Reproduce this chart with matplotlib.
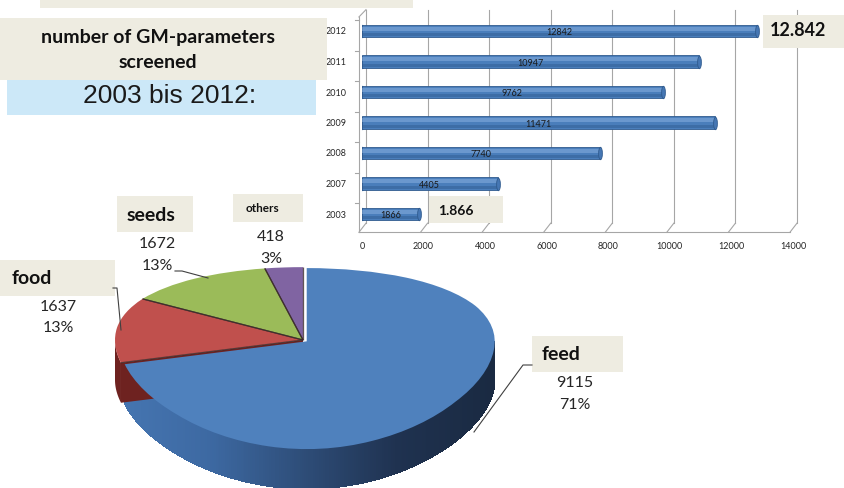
import numpy as np
import matplotlib.pyplot as plt
from matplotlib.patches import Rectangle, Polygon
from matplotlib.collections import PolyCollection
from matplotlib.lines import Line2D
from matplotlib.path import Path
from matplotlib.colors import LinearSegmentedColormap

W, H = 845, 488

# bar chart data
years = ['2003', '2007', '2008', '2009', '2010', '2011', '2012']
screened = [1866, 4405, 7740, 11471, 9762, 10947, 12842]
x_ticks = [0, 2000, 4000, 6000, 8000, 10000, 12000, 14000]

# pie data
pie_labels = ['feed', 'food', 'seeds', 'others']
pie_values = [9115, 1637, 1672, 418]
pie_pct = ['71%', '13%', '13%', '3%']

top_colors = ['#4F81BD', '#C0504D', '#9BBB59', '#8064A2']
side_colors = ['#2C4D75', '#6E2220', '#5F7530', '#4D3B62']
beige = '#EEECE1'
plt.rcParams['font.family'] = ['Lato', 'DejaVu Sans']


def box(x0, y0, x1, y1):
    # pixel box (from top-left) -> figure fraction rect
    return [x0 / W, 1 - y1 / H, (x1 - x0) / W, (y1 - y0) / H]


def fx(x):
    return x / W


def fy(y):
    return 1 - y / H


fig = plt.figure(figsize=(W / 100, H / 100), dpi=100)

# ---------------- 3D-ish pie ----------------
# a y-only perspective: the back half of the disc is squeezed
k = 0.19


def persp(y):
    return y / (1 + k * y)


def persp_inv(s):
    return s / (1 - k * s)


ax_pie = fig.add_axes([0, 0, 1, 1])
cx, cy, rx, ry = 303, 340, 188, 86.7   # pixel position of the pie centre, radii
depth_px = 40

wedges, _ = ax_pie.pie(pie_values, colors=top_colors, startangle=90, counterclock=False,
                       explode=[0.025, 0, 0, 0],
                       wedgeprops=dict(edgecolor='none', linewidth=0))
for w in wedges:
    w.set_zorder(3)

ax_pie.set_yscale('function', functions=(persp, persp_inv))
ax_pie.set_xlim(-cx / rx, (W - cx) / rx)
ax_pie.set_ylim(persp_inv(-(H - cy) / ry), persp_inv(cy / ry))
ax_pie.set_aspect('auto')
ax_pie.axis('off')

to_disp = ax_pie.transData.transform
from_disp = ax_pie.transData.inverted().transform
down = np.array([0, depth_px * fig.dpi / 100])

side_cmap = LinearSegmentedColormap.from_list(
    'side', ['#4676B2', '#3D69A2', '#2E4D78', '#1F3250', '#1A2A42'])

for i, w in enumerate(wedges):
    c0x, c0y = w.center
    t = np.radians(np.linspace(w.theta1, w.theta2, 400))
    t = t[np.sin(t) <= 0]
    if len(t) < 2:
        continue
    top = np.column_stack([c0x + np.cos(t), c0y + np.sin(t)])
    bot = from_disp(to_disp(top) - down)
    outline = np.vstack([top, bot[::-1]])
    if i == 0:
        # feed side with a left-to-right shading
        ax_pie.add_patch(Polygon(outline, closed=True, facecolor='#2E4D78',
                                 edgecolor='none', zorder=1))
        quads = [[top[j], top[j + 1], bot[j + 1], bot[j]] for j in range(len(t) - 1)]
        cols = [side_cmap((top[j, 0] + 1) / 2) for j in range(len(t) - 1)]
        pc = PolyCollection(quads, facecolors=cols, edgecolors='none',
                            linewidths=0, antialiaseds=False, zorder=1.5)
        ax_pie.add_collection(pc, autolim=False)
    else:
        a = np.radians(w.theta2)
        rim = np.array([[c0x + np.cos(a), c0y + np.sin(a)], [c0x, c0y]])
        rim_b = from_disp(to_disp(rim) - down)
        face = [rim[1], rim[0], rim_b[0], rim_b[1]]
        ax_pie.add_patch(Polygon(face, closed=True, facecolor=side_colors[i],
                                 edgecolor='none', zorder=2))
        ax_pie.add_patch(Polygon(outline, closed=True,
                                 facecolor=side_colors[i], edgecolor='none', zorder=2))

# dark seams between the slices on the top face
for i, w in enumerate(wedges[1:], start=1):
    c0x, c0y = w.center
    for ang in (w.theta1, w.theta2):
        a = np.radians(ang)
        ax_pie.plot([c0x, c0x + np.cos(a)], [c0y, c0y + np.sin(a)], color='#3a2a2a',
                    lw=0.9, alpha=0.8, zorder=4, solid_capstyle='butt')

# ---------------- bar chart ----------------
ax = fig.add_axes(box(362, 9.65, 793, 232.3))
ax.set_facecolor('none')
ax.set_xlim(0, 14000)
ax.set_ylim(-0.6, 6.7)
for s in ax.spines.values():
    s.set_visible(False)

grid_c = '#A6A6A6'
for t in x_ticks:
    ax.plot([t + 130, t + 130], [-0.3, 6.7], color=grid_c, lw=0.8, clip_on=False, zorder=0)
    ax.plot([t - 100, t + 130], [-0.6, -0.3], color=grid_c, lw=0.8, clip_on=False, zorder=0)
ax.plot([-100, 14000 - 100], [-0.6, -0.6], color=grid_c, lw=0.8, clip_on=False, zorder=0)
ax.plot([-100, -100], [-0.6, 6.46], color=grid_c, lw=0.8, clip_on=False, zorder=0)
ax.plot([-100, 130], [6.46, 6.7], color=grid_c, lw=0.8, clip_on=False, zorder=0)
for kk in range(7):
    ax.plot([-230, -100], [kk + 0.5 - 0.15, kk + 0.5 - 0.15], color=grid_c, lw=0.8,
            clip_on=False, zorder=0)

ypos = np.arange(len(years))
ax.barh(ypos, screened, height=0.42, color='#4A7EBB', edgecolor='#2F5A8E', lw=0.6, zorder=2)
ax.barh(ypos + 0.08, screened, height=0.13, color='#8DB3E2', alpha=0.5, lw=0, zorder=3)
ax.barh(ypos - 0.13, screened, height=0.1, color='#2F5A8E', alpha=0.45, lw=0, zorder=3)

# rounded end caps of the cylinders
circ = Path.unit_circle()
ell = Path(circ.vertices * [0.3, 1.0], circ.codes)
ax.scatter(screened, ypos, marker=ell, s=80, facecolor='#4677B4', edgecolor='#2F5A8E',
           linewidths=0.6, zorder=3.5)
ax.scatter([0] * len(ypos), ypos, marker=ell, s=80, facecolor='#4A7EBB',
           edgecolor='#2F5A8E', linewidths=0.6, zorder=1.5)

for y, v in zip(ypos, screened):
    ax.text(v / 2, y - 0.06, str(v), ha='center', va='center', fontsize=6.5,
            color='#1a1a1a', zorder=4)

ax.set_yticks(ypos, years)
ax.set_xticks(x_ticks, [str(t) for t in x_ticks])
ax.tick_params(axis='y', length=0, pad=11, labelsize=6.5, labelcolor='#262626')
ax.tick_params(axis='x', length=0, pad=7, labelsize=6.5, labelcolor='#262626')

# ---------------- boxes and texts ----------------
fig.patches.append(Rectangle((fx(40), fy(8)), (413 - 40) / W, 8 / H,
                             transform=fig.transFigure, facecolor=beige, edgecolor='none'))
r = box(7, 60, 316, 115)
fig.patches.append(Rectangle((r[0], r[1]), r[2], r[3], transform=fig.transFigure,
                             facecolor='#CCE8F8', edgecolor='none', zorder=1))
fig.text(fx(170), fy(96), '2003 bis 2012:', ha='center', va='center', fontsize=19,
         family=['Liberation Sans'], color='#1a1a1a', zorder=2)


def beige_box(x0, y0, x1, y1):
    r = box(x0, y0, x1, y1)
    fig.patches.append(Rectangle((r[0], r[1]), r[2], r[3], transform=fig.transFigure,
                                 facecolor=beige, edgecolor='none', zorder=2))


beige_box(0, 18, 327, 80)
fig.text(fx(158), fy(38), 'number of GM-parameters', ha='center', va='center',
         fontsize=14, fontweight='bold', color='#111111', zorder=3)
fig.text(fx(158), fy(63), 'screened', ha='center', va='center',
         fontsize=14, fontweight='bold', color='#111111', zorder=3)

beige_box(763, 15, 845, 48)
fig.text(fx(798), fy(31), '12.842', ha='center', va='center', fontsize=13,
         fontweight='bold', color='#111111', zorder=3)
beige_box(429, 196, 503, 223)
fig.text(fx(438), fy(211), '1.866', ha='left', va='center', fontsize=10,
         fontweight='bold', color='#111111', zorder=3)

# pie labels: name box, value, percent
label_boxes = [(532, 336, 623, 372), (0, 260, 115, 296), (117, 196, 193, 232), (233, 194, 303, 222)]
name_pos = [(542, 355), (12, 278), (127, 215), (263, 208)]
name_size = [14, 14, 14, 8.5]
num_pos = [(575, 383, 405), (58, 307, 328), (157, 244, 266), (271, 237, 259)]
for i in range(len(pie_labels)):
    beige_box(*label_boxes[i])
    nx, ny = name_pos[i]
    fig.text(fx(nx), fy(ny), pie_labels[i], ha='center' if i == 3 else 'left', va='center',
             fontsize=name_size[i], fontweight='bold', color='#111111', zorder=3)
    px_, py1, py2 = num_pos[i]
    fig.text(fx(px_), fy(py1), str(pie_values[i]), ha='center', va='center',
             fontsize=11.5, color='#262626', zorder=3)
    fig.text(fx(px_), fy(py2), pie_pct[i], ha='center', va='center',
             fontsize=11.5, color='#262626', zorder=3)

leaders = [[(532, 365), (523, 365), (474, 432)],
           [(113, 288), (117, 288), (121, 330)],
           [(175, 271), (182, 271), (208, 278)]]
for pts in leaders:
    xs = [fx(p[0]) for p in pts]
    ys = [fy(p[1]) for p in pts]
    fig.add_artist(Line2D(xs, ys, color='#404040', lw=0.8, zorder=3))

fig.savefig('out.png', dpi=100)
